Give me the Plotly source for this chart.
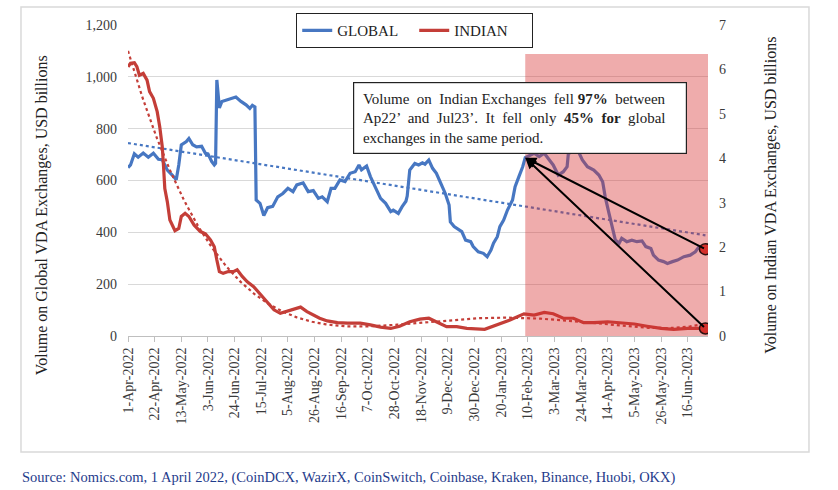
import numpy as np
import pandas as pd
import plotly.graph_objects as go

# ---------------- data ----------------
global_dates = [
    "2022-04-01", "2022-04-03", "2022-04-06", "2022-04-09", "2022-04-13", "2022-04-17", "2022-04-21",
    "2022-04-25", "2022-04-28", "2022-05-02", "2022-05-06", "2022-05-09", "2022-05-11", "2022-05-13",
    "2022-05-17", "2022-05-19", "2022-05-22", "2022-05-25", "2022-05-29", "2022-06-01", "2022-06-03",
    "2022-06-06", "2022-06-08", "2022-06-09", "2022-06-10", "2022-06-11", "2022-06-12", "2022-06-14",
    "2022-06-18", "2022-06-22", "2022-06-25", "2022-06-29", "2022-07-03", "2022-07-06", "2022-07-08",
    "2022-07-10", "2022-07-11", "2022-07-14", "2022-07-17", "2022-07-20", "2022-07-24", "2022-07-28",
    "2022-08-01", "2022-08-05", "2022-08-09", "2022-08-12", "2022-08-17", "2022-08-21", "2022-08-25",
    "2022-08-29", "2022-09-01", "2022-09-05", "2022-09-08", "2022-09-11", "2022-09-15", "2022-09-19",
    "2022-09-23", "2022-09-27", "2022-09-30", "2022-10-02", "2022-10-06", "2022-10-09", "2022-10-13",
    "2022-10-17", "2022-10-21", "2022-10-25", "2022-10-27", "2022-10-31", "2022-11-03", "2022-11-06",
    "2022-11-07", "2022-11-09", "2022-11-11", "2022-11-13", "2022-11-16", "2022-11-19", "2022-11-21",
    "2022-11-24", "2022-11-27", "2022-11-30", "2022-12-04", "2022-12-07", "2022-12-10", "2022-12-11",
    "2022-12-14", "2022-12-18", "2022-12-20", "2022-12-23", "2022-12-27", "2022-12-29", "2023-01-02",
    "2023-01-06", "2023-01-09", "2023-01-12", "2023-01-14", "2023-01-17", "2023-01-19", "2023-01-22",
    "2023-01-25", "2023-01-29", "2023-01-31", "2023-02-03", "2023-02-06", "2023-02-08", "2023-02-15",
    "2023-02-19", "2023-02-23", "2023-02-27", "2023-03-02", "2023-03-06", "2023-03-10", "2023-03-13",
    "2023-03-14", "2023-03-18", "2023-03-22", "2023-03-25", "2023-03-29", "2023-04-03", "2023-04-07",
    "2023-04-10", "2023-04-12", "2023-04-15", "2023-04-18", "2023-04-20", "2023-04-23", "2023-04-25",
    "2023-04-29", "2023-05-03", "2023-05-07", "2023-05-11", "2023-05-14", "2023-05-18", "2023-05-20",
    "2023-05-24", "2023-05-28", "2023-05-31", "2023-06-04", "2023-06-08", "2023-06-13", "2023-06-18",
    "2023-06-22", "2023-06-25", "2023-06-30",
]
global_values = [
    650, 660, 703, 690, 706, 690, 705,
    682, 680, 640, 620, 603, 660, 737,
    750, 762, 738, 730, 732, 705, 703,
    673, 660, 666, 988, 935, 880, 905,
    912, 918, 922, 905, 892, 878, 890,
    884, 525, 512, 465, 495, 500, 537,
    550, 570, 557, 583, 591, 557, 561,
    531, 537, 518, 570, 570, 602, 596,
    628, 634, 660, 641, 656, 615, 570,
    531, 512, 480, 486, 473, 499, 520,
    540, 640, 653, 666, 660, 668, 663,
    679, 647, 628, 583, 550, 505, 440,
    422, 409, 403, 370, 364, 345, 325,
    319, 306, 332, 358, 383, 422, 447,
    486, 525, 576, 615, 653, 688, 705,
    692, 705, 679, 660, 621, 634, 653,
    705, 711, 711, 679, 653, 640, 621,
    595, 537, 473, 409, 370, 358, 377,
    364, 370, 364, 367, 345, 338, 312,
    293, 287, 280, 287, 293, 306, 312,
    325, 345, 335,
]

indian_dates = [
    "2022-04-01", "2022-04-03", "2022-04-06", "2022-04-08", "2022-04-10", "2022-04-13", "2022-04-16",
    "2022-04-18", "2022-04-21", "2022-04-24", "2022-04-26", "2022-04-28", "2022-04-29", "2022-04-30",
    "2022-05-02", "2022-05-04", "2022-05-08", "2022-05-11", "2022-05-13", "2022-05-16", "2022-05-19",
    "2022-05-23", "2022-05-28", "2022-06-01", "2022-06-05", "2022-06-08", "2022-06-10", "2022-06-12",
    "2022-06-15", "2022-06-19", "2022-06-23", "2022-06-26", "2022-06-30", "2022-07-04", "2022-07-09",
    "2022-07-14", "2022-07-20", "2022-07-25", "2022-07-30", "2022-08-04", "2022-08-09", "2022-08-15",
    "2022-08-20", "2022-08-25", "2022-08-30", "2022-09-05", "2022-09-13", "2022-09-21", "2022-10-01",
    "2022-10-09", "2022-10-17", "2022-10-25", "2022-11-01", "2022-11-09", "2022-11-17", "2022-11-24",
    "2022-11-30", "2022-12-08", "2022-12-16", "2022-12-24", "2023-01-07", "2023-01-17", "2023-01-27",
    "2023-02-07", "2023-02-15", "2023-02-23", "2023-03-02", "2023-03-10", "2023-03-18", "2023-03-26",
    "2023-04-03", "2023-04-14", "2023-04-24", "2023-05-05", "2023-05-15", "2023-05-26", "2023-06-05",
    "2023-06-16", "2023-06-26", "2023-06-30",
]
indian_values = [
    6.06, 6.14, 6.15, 6.06, 5.87, 5.91, 5.76,
    5.50, 5.35, 5.05, 4.71, 4.26, 3.81, 3.32,
    3.02, 2.61, 2.37, 2.42, 2.69, 2.76, 2.69,
    2.50, 2.35, 2.30, 2.16, 2.01, 1.71, 1.45,
    1.41, 1.45, 1.45, 1.49, 1.34, 1.22, 1.11,
    0.95, 0.76, 0.59, 0.51, 0.55, 0.59, 0.65,
    0.55, 0.47, 0.40, 0.34, 0.30, 0.29, 0.29,
    0.25, 0.20, 0.17, 0.22, 0.32, 0.38, 0.40,
    0.32, 0.21, 0.21, 0.17, 0.15, 0.25, 0.36,
    0.50, 0.47, 0.53, 0.50, 0.40, 0.40, 0.30,
    0.30, 0.32, 0.30, 0.27, 0.22, 0.17, 0.15,
    0.17, 0.17, 0.17,
]

tick_dates = [
    "2022-04-01", "2022-04-22", "2022-05-13", "2022-06-03", "2022-06-24", "2022-07-15", "2022-08-05",
    "2022-08-26", "2022-09-16", "2022-10-07", "2022-10-28", "2022-11-18", "2022-12-09", "2022-12-30",
    "2023-01-20", "2023-02-10", "2023-03-03", "2023-03-24", "2023-04-14", "2023-05-05", "2023-05-26",
    "2023-06-16",
]
tick_labels = [
    "1-Apr-2022", "22-Apr-2022", "13-May-2022", "3-Jun-2022", "24-Jun-2022", "15-Jul-2022", "5-Aug-2022",
    "26-Aug-2022", "16-Sep-2022", "7-Oct-2022", "28-Oct-2022", "18-Nov-2022", "9-Dec-2022", "30-Dec-2022",
    "20-Jan-2023", "10-Feb-2023", "3-Mar-2023", "24-Mar-2023", "14-Apr-2023", "5-May-2023", "26-May-2023",
    "16-Jun-2023",
]

x_range = ["2022-04-01", "2023-07-02"]
highlight_start = "2023-02-08"
highlight_end = "2023-07-02"
highlight_top = 6.35          # on the Indian (right) axis
left_max, right_max = 1200, 7

# ---------------- styles ----------------
BLUE = "#4777C2"
RED = "#C43E38"
SERIF = "Liberation Serif"
TXT = "#3a3a3a"

# ---------------- trend lines (fitted from the series) ----------------
def daily(dates, values):
    d = pd.to_datetime(dates)
    grid = pd.date_range(d[0], d[-1], freq="D")
    t = (d - d[0]).days.values
    tg = (grid - d[0]).days.values
    return grid, tg, np.interp(tg, t, values)

g_grid, g_t, g_daily = daily(global_dates, global_values)
g_trend = np.polyval(np.polyfit(g_t, g_daily, 1), g_t)

i_grid, i_t, i_daily = daily(indian_dates, indian_values)
s = i_t / i_t.max()
i_trend = np.polyval(np.polyfit(s, i_daily, 4), s)

fig = go.Figure()
fig.add_trace(go.Scatter(x=global_dates, y=global_values, name="GLOBAL", mode="lines",
                         line=dict(color=BLUE, width=3.2), yaxis="y"))
fig.add_trace(go.Scatter(x=g_grid, y=g_trend, mode="lines", showlegend=False, hoverinfo="skip",
                         line=dict(color=BLUE, width=2.2, dash="dot"), yaxis="y"))
fig.add_trace(go.Scatter(x=indian_dates, y=indian_values, name="INDIAN", mode="lines",
                         line=dict(color=RED, width=3.2), yaxis="y2"))
fig.add_trace(go.Scatter(x=i_grid, y=i_trend, mode="lines", showlegend=False, hoverinfo="skip",
                         line=dict(color=RED, width=2.2, dash="dot"), yaxis="y2"))

ratio = right_max / left_max
g_start_val = global_values[global_dates.index(highlight_start)]

shapes = [
    # outer chart border
    dict(type="rect", xref="paper", yref="paper", x0=-0.1845, x1=1.1741, y0=-0.373, y1=1.058,
         line=dict(color="#D9D9D9", width=1.5), layer="below"),
    # highlighted period
    dict(type="rect", xref="x", yref="y2", x0=highlight_start, x1=highlight_end, y0=0, y1=highlight_top,
         fillcolor="rgba(214,48,48,0.40)", line=dict(width=0), layer="above"),
]
for yv in [global_values[-1] * ratio, indian_values[-1]]:
    shapes.append(dict(type="circle", xref="x", yref="y2", xsizemode="pixel", ysizemode="pixel",
                       xanchor=global_dates[-1], yanchor=yv, x0=-6, x1=6, y0=-5.5, y1=5.5,
                       fillcolor="#D4302C", line=dict(color="#2a1010", width=1.5), layer="above"))

NB = "\u00a0"
line1 = (NB + "Volume " + NB + "on " + NB + "Indian " + "Exchanges " + NB + "fell " +
         "<b>97%</b> " + NB + "between")
line2 = (NB + "Ap22’ " + NB + "and " + NB + "Jul23’. " + NB + "It " + NB + "fell " + NB +
         "only " + NB + "<b>45% " + NB + "for</b> " + NB + "global")
line3 = NB + "exchanges in the same period."

annotations = [
    # arrows
    dict(x=highlight_start, y=g_start_val, xref="x", yref="y", ax=global_dates[-1], ay=global_values[-1],
         axref="x", ayref="y", text="", showarrow=True, arrowhead=2, arrowsize=1.1, arrowwidth=2,
         arrowcolor="black"),
    dict(x=highlight_start, y=g_start_val * ratio, xref="x", yref="y2", ax=indian_dates[-1],
         ay=indian_values[-1], axref="x", ayref="y2", text="", showarrow=True, arrowhead=2,
         arrowsize=1.1, arrowwidth=2, arrowcolor="black"),
    # text box
    dict(xref="paper", yref="paper", x=0.3879, y=0.8167, xanchor="left", yanchor="top",
         text=line1 + "<br>" + line2 + "<br>" + line3,
         align="left", showarrow=False, bgcolor="white", bordercolor="#222", borderwidth=1.2,
         borderpad=5, width=322, height=60, font=dict(family=SERIF, size=15, color="#222")),
    # axis titles
    dict(xref="paper", yref="paper", x=-0.148, y=0.389, textangle=-90, showarrow=False,
         text="Volume on Global VDA Exchanges, USD billions", xanchor="center", yanchor="middle",
         font=dict(family=SERIF, size=16, color="#222")),
    dict(xref="paper", yref="paper", x=1.108, y=0.453, textangle=-90, showarrow=False,
         text="Volume on Indian VDA Exchanges, USD billions", xanchor="center", yanchor="middle",
         font=dict(family=SERIF, size=16, color="#222")),
    # source
    dict(xref="paper", yref="paper", x=-0.1862, y=-0.4534, xanchor="left", yanchor="middle",
         showarrow=False,
         text="Source: Nomics.com, 1 April 2022, (CoinDCX, WazirX, CoinSwitch, Coinbase, Kraken, Binance, Huobi, OKX)",
         font=dict(family=SERIF, size=14.5, color="#1F3C8C")),
]

fig.update_layout(
    width=838, height=490,
    margin=dict(l=128, r=130, t=25, b=154),
    paper_bgcolor="white", plot_bgcolor="white",
    font=dict(family=SERIF, color=TXT),
    showlegend=True,
    legend=dict(orientation="h", x=0.2897, y=1.0386, xanchor="left", yanchor="top",
                bordercolor="#222", borderwidth=1.2, bgcolor="white",
                font=dict(family=SERIF, size=15, color="#222"), entrywidth=72, entrywidthmode="pixels",
                itemwidth=30),
    xaxis=dict(type="date", range=x_range, tickmode="array", tickvals=tick_dates, ticktext=tick_labels,
               tickangle=-90, tickfont=dict(family=SERIF, size=14, color=TXT), showgrid=False,
               showline=True, linecolor="#BFBFBF", linewidth=1, ticks="outside", ticklen=5,
               tickcolor="#BFBFBF", zeroline=False),
    yaxis=dict(range=[0, left_max], dtick=200, tickformat=",", showgrid=True, gridcolor="#D9D9D9",
               gridwidth=1, zeroline=False, showline=False, ticks="", ticklabelstandoff=10,
               tickfont=dict(family=SERIF, size=14, color=TXT)),
    yaxis2=dict(range=[0, right_max], dtick=1, overlaying="y", side="right", showgrid=False,
                zeroline=False, showline=False, ticks="", ticklabelstandoff=10,
                tickfont=dict(family=SERIF, size=14, color=TXT)),
    shapes=shapes,
    annotations=annotations,
)

fig.write_html("out.html")
